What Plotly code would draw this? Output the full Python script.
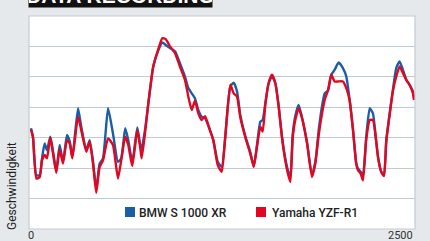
import plotly.graph_objects as go

# Distance (x) samples
distance = [0, 13, 35, 57, 72, 89, 104, 126, 144, 165, 187, 209, 235, 253, 270, 307, 328, 361, 383, 405,
            426, 448, 470, 503, 535, 568, 589, 615, 635, 661, 694, 711, 722, 744, 766, 798, 831, 857, 879, 907,
            940, 972, 1005, 1027, 1049, 1070, 1092, 1114, 1136, 1168, 1190, 1219, 1245, 1268, 1301, 1323, 1345,
            1366, 1399, 1431, 1454, 1475, 1497, 1512, 1530, 1551, 1573, 1595, 1617, 1638, 1660, 1677, 1693, 1708,
            1725, 1747, 1769, 1802, 1834, 1856, 1878, 1899, 1917, 1939, 1960, 1982, 2008, 2036, 2058, 2080, 2102,
            2123, 2134, 2152, 2167, 2188, 2211, 2232, 2250, 2265, 2286, 2304, 2319, 2341, 2362, 2384, 2406, 2428,
            2450, 2471, 2493, 2500]

bmw = [3.31, 3.03, 1.77, 1.77, 2.32, 2.81, 2.59, 3.03, 2.54, 1.93, 2.76, 2.21, 3.09, 2.87, 2.37, 3.97, 3.36, 2.59, 2.92, 2.21,
       1.33, 2.15, 2.32, 3.97, 3.14, 2.21, 2.32, 3.31, 2.92, 2.21, 3.34, 2.81, 2.65, 3.25, 4.13, 5.34, 5.87, 6.13, 6.05, 5.95,
       5.84, 5.45, 5.01, 4.63, 4.46, 4.30, 3.91, 3.69, 3.64, 3.25, 2.92, 2.21, 2.04, 3.03, 4.68, 4.81, 4.52,
       3.75, 3.05, 2.54, 2.07, 2.76, 3.53, 3.58, 4.15, 4.79, 5.01, 4.79, 4.04, 3.05, 2.32, 1.93, 1.71, 3.09,
       3.71, 4.08, 3.67, 2.84, 1.77, 2.21, 3.25, 4.02, 4.46, 4.55, 5.07, 5.23, 5.47, 5.29, 5.01, 4.24, 3.25,
       2.15, 1.99, 1.88, 1.77, 3.03, 3.97, 3.80, 3.03, 2.37, 1.88, 1.77, 2.92, 3.80, 4.57, 5.29, 5.51, 5.23,
       4.90, 4.74, 4.52, 4.30]

yamaha = [3.27, 3.01, 1.66, 1.71, 2.26, 2.43, 2.32, 3.01, 2.48, 1.85, 2.62, 2.15, 2.92, 2.81, 2.32, 3.69, 3.25, 2.54, 2.87, 2.15,
          1.19, 2.04, 2.26, 2.98, 2.76, 1.66, 2.26, 3.03, 2.76, 2.07, 3.25, 2.76, 2.32, 3.14, 4.13, 5.34, 5.91, 6.27, 6.24, 6.00,
          5.78, 5.34, 4.90, 4.35, 3.91, 4.22, 3.80, 3.58, 3.71, 3.25, 2.92, 2.10, 1.88, 3.03, 4.74, 4.46, 4.35,
          3.67, 3.01, 2.48, 2.04, 2.70, 3.36, 3.20, 4.11, 4.79, 5.07, 4.79, 4.00, 3.01, 2.24, 1.82, 1.55, 2.98,
          3.58, 3.97, 3.64, 2.81, 1.71, 2.15, 3.09, 3.78, 4.24, 4.57, 5.07, 4.85, 4.85, 4.85, 4.63, 4.22, 3.25,
          2.15, 1.93, 1.82, 1.60, 2.92, 3.58, 3.58, 3.03, 2.37, 1.88, 1.74, 2.87, 3.75, 4.52, 5.01, 5.34, 5.12,
          4.90, 4.74, 4.46, 4.24]

series_names = ["BMW S 1000 XR", "Yamaha YZF-R1"]
series_colors = ["#1b5ea8", "#e30620"]
x_tick_labels = ["0", "2500"]
x_tick_values = [0, 2500]
y_title = "Geschwindigkeit"
title_text = "DATA RECORDING"

FONT = "Roboto, DejaVu Sans Condensed, sans-serif"

fig = go.Figure()
for name, vals, col in zip(series_names, [bmw, yamaha], series_colors):
    fig.add_trace(go.Scatter(x=distance, y=vals, mode="lines", name=name,
                             line=dict(color=col, width=2.4, shape="spline", smoothing=0.5),
                             showlegend=False, hoverinfo="skip"))

L, R, T, B = 29, 15, 16, 12
W, H = 430, 241
pw, ph = W - L - R, H - T - B

def px2x(px):
    return (px - L) / pw

def py2y(py):
    return (H - B - py) / ph

# plot frame
fig.add_shape(type="rect", xref="paper", yref="paper", x0=0, x1=1, y0=0, y1=1,
              line=dict(color="#c3ccd3", width=1.2), layer="above")

# legend (squares + text)
leg_pos = [(125, 137), (256, 270)]
for (sqx, tx), name, col in zip(leg_pos, series_names, series_colors):
    fig.add_shape(type="rect", xref="paper", yref="paper",
                  x0=px2x(sqx), x1=px2x(sqx + 10), y0=py2y(217), y1=py2y(207),
                  fillcolor=col, line=dict(width=0))
    fig.add_annotation(xref="paper", yref="paper", x=px2x(tx), y=py2y(212.5),
                       xanchor="left", yanchor="middle", text=name, showarrow=False,
                       font=dict(family=FONT, size=12, color="#222222", weight=500))

# x tick labels
for v, lab in zip(x_tick_values, x_tick_labels):
    if v == 0:
        fig.add_annotation(xref="x", yref="paper", x=v, y=py2y(235), xanchor="center", yanchor="middle",
                           text=lab, showarrow=False, font=dict(family=FONT, size=11, color="#333333"))
    else:
        fig.add_annotation(xref="paper", yref="paper", x=1.0, y=py2y(235), xanchor="right", yanchor="middle",
                           text=lab, showarrow=False, font=dict(family=FONT, size=11, color="#333333"))

# y title
fig.add_annotation(xref="paper", yref="paper", x=px2x(12), y=py2y(186),
                   xanchor="center", yanchor="middle", textangle=-90, text=y_title, showarrow=False,
                   font=dict(family=FONT, size=12, color="#222222"))

# title bar (cut off at top)
fig.add_annotation(xref="paper", yref="paper", x=px2x(28), y=py2y(8),
                   xanchor="left", yanchor="bottom", text="<b>" + title_text + "</b>", showarrow=False,
                   bgcolor="#111111", width=183, height=26, align="center", valign="bottom", borderpad=0,
                   font=dict(family="Liberation Sans, Roboto", size=21, color="#ffffff"))

fig.update_layout(
    width=W, height=H,
    margin=dict(l=L, r=R, t=T, b=B, pad=0),
    paper_bgcolor="#e5e9ec",
    plot_bgcolor="#ffffff",
    showlegend=False,
    xaxis=dict(range=[-13, 2506.5], showgrid=False, zeroline=False, showticklabels=False,
               ticks="", showline=False, fixedrange=True),
    yaxis=dict(range=[0, 7], tickvals=[1, 2, 3, 4, 5, 6], showgrid=True, gridcolor="#bfcad2",
               gridwidth=1.3, zeroline=False, showticklabels=False, ticks="", showline=False, fixedrange=True),
)

fig.write_html("out.html", config={"displayModeBar": False})
